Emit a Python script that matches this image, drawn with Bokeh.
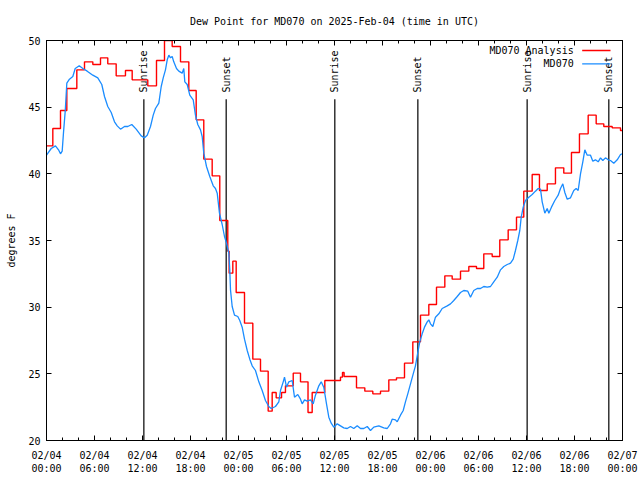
import math
from bokeh.plotting import figure
from bokeh.models import FixedTicker, LinearAxis, Range1d, Label, CustomJSTickFormatter
from bokeh.core.properties import value
from bokeh.embed import file_html
from bokeh.resources import INLINE

# ---------------- data (hours since 2025-02-04 00:00 UTC) ----------------
title_text = "Dew Point for MD070 on 2025-Feb-04 (time in UTC)"
y_label = "degrees F"
tick_hours = [0, 6, 12, 18, 24, 30, 36, 42, 48, 54, 60, 66, 72]
tick_labels = ["02/04\n00:00", "02/04\n06:00", "02/04\n12:00", "02/04\n18:00",
               "02/05\n00:00", "02/05\n06:00", "02/05\n12:00", "02/05\n18:00",
               "02/06\n00:00", "02/06\n06:00", "02/06\n12:00", "02/06\n18:00",
               "02/07\n00:00"]
minor_hours = list(range(0, 73, 2))
y_ticks = [20, 25, 30, 35, 40, 45, 50]

sunrise_hours = [12.17, 36.04, 60.08]
sunset_hours = [22.46, 46.42, 70.29]

# MD070 Analysis (step starts, value)
analysis_t = [0, 0.79, 1.75, 2.54, 3.79, 4.75, 5.79, 6.75, 7.66, 8.71, 9.87, 10.71,
              12.66, 13.75, 14.75, 15.71, 16.75, 17.79, 18.71, 19.66, 20.71, 21.66,
              22.66, 22.83, 23.29, 23.71, 24.75, 25.79, 26.75, 27.71, 28.21, 28.71,
              29.38, 29.87, 30.84, 31.75, 32.69, 33.21, 34.79, 36.75, 37.0, 37.2,
              38.75, 39.79, 40.79, 41.75, 42.79, 43.75, 44.75, 45.79, 46.75, 47.79,
              48.75, 49.79, 50.71, 51.75, 52.79, 53.75, 54.66, 55.71, 56.66, 57.71,
              58.75, 59.66, 60.71, 61.62, 62.59, 63.62, 64.66, 65.62, 66.62, 67.71,
              68.71, 69.66, 70.71, 71.75]
analysis_v = [42.1, 43.4, 44.75, 46.4, 47.8, 48.4, 48.2, 48.7, 48.25, 47.35, 47.75, 47.05,
              46.6, 48.5, 50.0, 49.55, 48.4, 46.25, 44.05, 41.1, 39.85, 36.5,
              34.2, 32.55, 33.45, 31.1, 28.8, 26.1, 25.2, 22.2, 23.6, 23.2,
              23.6, 24.1, 25.05, 24.4, 22.1, 23.6, 24.5, 24.75, 25.1, 24.8,
              23.95, 23.7, 23.5, 23.7, 24.55, 24.7, 25.8, 27.4, 29.4, 30.2,
              31.5, 32.35, 32.1, 32.7, 33.05, 32.9, 34.0, 33.8, 35.05, 35.8,
              36.75, 38.7, 39.95, 38.75, 39.25, 40.45, 40.05, 41.6, 43.0, 44.4,
              43.75, 43.55, 43.45, 43.25]

# MD070 observations
obs_t = [0.0, 0.59, 1.12, 1.5, 1.75, 1.96, 2.12, 2.34, 2.54, 2.87, 3.29, 3.59, 4.09, 4.54,
         5.09, 5.79, 6.41, 6.91, 7.25, 7.66, 8.09, 8.5, 8.84, 9.25, 9.75, 10.16, 10.66,
         11.21, 11.84, 12.25, 12.59, 13.0, 13.34, 13.62, 14.04, 14.34, 14.59, 14.87, 15.09,
         15.29, 15.5, 15.71, 15.91, 16.25, 16.54, 16.96, 17.16, 17.29, 17.59, 17.91, 18.34,
         18.62, 18.91, 19.25, 19.46, 19.66, 20.0, 20.41, 20.84, 21.12, 21.34, 21.62, 21.96,
         22.25, 22.5, 22.79, 22.91, 23.0, 23.21, 23.5, 23.91, 24.16, 24.46, 24.75, 25.09,
         25.41, 25.71, 26.12, 26.54, 26.96, 27.37, 27.79, 28.09, 28.62, 29.04, 29.25, 29.59,
         29.75, 30.0, 30.29, 30.71, 31.0, 31.41, 31.75, 31.96, 32.25, 32.59, 33.0, 33.34,
         33.62, 34.04, 34.34, 34.66, 35.0, 35.29, 35.59, 35.91, 36.34, 36.75, 37.16, 37.59,
         38.0, 38.41, 38.84, 39.25, 39.66, 40.09, 40.5, 40.91, 41.54, 42.16, 42.59, 43.0,
         43.21, 43.62, 43.84, 44.25, 44.59, 44.87, 45.16, 45.5, 45.84, 46.12, 46.41, 46.66,
         46.96, 47.25, 47.59, 47.79, 48.0, 48.29, 48.62, 49.04, 49.46, 50.09, 50.5, 50.91,
         51.34, 51.75, 52.16, 52.66, 53.0, 53.41, 53.84, 54.25, 54.66, 55.09, 55.5, 55.91,
         56.34, 56.75, 57.16, 57.59, 58.0, 58.34, 58.62, 58.91, 59.16, 59.34, 59.59, 59.87,
         60.29, 60.71, 61.12, 61.46, 61.75, 61.96, 62.29, 62.59, 62.79, 63.12, 63.54, 63.96,
         64.25, 64.54, 64.79, 65.09, 65.5, 65.91, 66.21, 66.46, 66.75, 67.04, 67.29, 67.59,
         68.0, 68.29, 68.62, 68.96, 69.25, 69.54, 69.87, 70.21, 70.5, 70.91, 71.34, 71.75,
         71.96]
obs_v = [41.4, 41.9, 42.1, 41.8, 41.5, 41.7, 43.05, 44.7, 46.8, 47.1, 47.3, 47.9, 48.1, 47.9,
         47.7, 47.4, 47.2, 46.7, 45.8, 45.05, 44.6, 43.9, 43.6, 43.35, 43.55, 43.55, 43.7,
         43.35, 42.85, 42.7, 42.9, 43.55, 44.4, 44.9, 45.3, 46.55, 47.2, 47.8, 48.55,
         48.9, 48.7, 48.8, 48.4, 47.9, 47.7, 47.55, 47.9, 46.9, 46.7, 45.9, 45.55,
         44.4, 43.7, 43.3, 42.8, 41.55, 40.55, 39.8, 39.1, 38.9, 38.55, 37.05, 36.2,
         35.3, 34.8, 34.05, 32.8, 31.3, 30.05, 29.4, 29.3, 29.0, 28.5, 27.6, 26.75,
         26.1, 25.6, 25.25, 24.4, 23.75, 23.0, 22.55, 22.4, 22.55, 22.9, 23.75, 24.4,
         24.75, 24.0, 24.4, 24.5, 23.25, 23.45, 23.1, 22.75, 23.05, 22.95, 23.05, 22.75,
         23.4, 24.1, 24.4, 24.0, 22.75, 21.75, 21.3, 21.0, 21.25, 21.1, 20.95, 20.9,
         21.05, 20.9, 21.1, 20.9, 20.9, 21.05, 20.75, 21.0, 21.1, 20.95, 20.9, 21.25,
         21.6, 21.55, 21.4, 21.9, 22.25, 22.9, 23.5, 24.25, 25.0, 25.6, 26.6, 27.4,
         28.0, 28.5, 28.9, 29.05, 28.75, 28.55, 29.25, 29.5, 29.9, 30.1, 30.25, 30.5,
         30.8, 31.1, 31.25, 31.2, 30.75, 31.25, 31.4, 31.4, 31.55, 31.5, 31.55, 31.9,
         32.25, 32.8, 33.05, 33.2, 33.3, 33.6, 34.25, 35.0, 35.75, 36.75, 37.5, 38.0,
         38.25, 38.45, 38.7, 38.9, 38.85, 37.9, 37.05, 37.4, 37.05, 37.5, 38.0, 38.4,
         38.9, 39.25, 38.6, 38.1, 38.2, 38.75, 38.9, 38.75, 40.0, 40.9, 41.8, 41.4,
         41.4, 40.95, 41.05, 40.9, 41.2, 41.0, 41.2, 41.05, 41.0, 40.8, 41.05, 41.45,
         41.5]

# ---------------- styling ----------------
MONO = "DejaVu Sans Mono"
FS = "10px"
RED = "#ff0000"
BLUE = "#1a8cff"

p = figure(width=640, height=480, x_range=Range1d(0, 72), y_range=Range1d(20, 50),
           output_backend="svg", toolbar_location=None,
           min_border_left=46, min_border_right=18, min_border_top=40, min_border_bottom=40,
           background_fill_color="white", border_fill_color="white")
p.grid.visible = False
p.outline_line_color = "black"
p.outline_line_width = 1

p.title.text = title_text
p.title.text_font = MONO
p.title.text_font_size = FS
p.title.text_font_style = "normal"
p.title.text_color = "black"
p.title.align = "center"
p.title.standoff = 27

xt = FixedTicker(ticks=tick_hours, minor_ticks=minor_hours)
yt = FixedTicker(ticks=y_ticks, minor_ticks=[])

xa = p.xaxis[0]
xa.ticker = xt
xa.major_label_overrides = {h: lab for h, lab in zip(tick_hours, tick_labels)}
ya = p.yaxis[0]
ya.ticker = yt
ya.axis_label = y_label

for ax in (xa, ya):
    ax.major_label_text_font = MONO
    ax.major_label_text_font_size = FS
    ax.major_label_text_color = "black"
    ax.axis_label_text_font = MONO
    ax.axis_label_text_font_size = FS
    ax.axis_label_text_font_style = "normal"
    ax.axis_label_text_color = "black"
    ax.major_tick_in = 5
    ax.major_tick_out = 0
    ax.minor_tick_in = 3
    ax.minor_tick_out = 0
    ax.axis_line_color = "black"
    ax.major_tick_line_color = "black"
    ax.minor_tick_line_color = "black"
xa.major_label_standoff = 9
ya.major_label_standoff = 6
ya.axis_label_standoff = 8
ya.minor_tick_line_color = None

blank = CustomJSTickFormatter(code="return ''")
top = LinearAxis(ticker=xt, formatter=blank, major_label_standoff=0,
                 major_tick_in=5, major_tick_out=0, minor_tick_in=3, minor_tick_out=0)
right = LinearAxis(ticker=yt, formatter=blank, major_label_standoff=0,
                   major_tick_in=5, major_tick_out=0, minor_tick_line_color=None)
p.add_layout(top, "above")
p.add_layout(right, "right")

# sun lines and labels
line_top = 45.6
text_y = 46.1
sun_x = sunrise_hours + sunset_hours
sun_names = ["Sunrise"] * len(sunrise_hours) + ["Sunset"] * len(sunset_hours)
p.segment(x0=sun_x, y0=[20] * len(sun_x), x1=sun_x, y1=[line_top] * len(sun_x),
          line_color="black", line_width=1.2)
p.text(x=sun_x, y=[text_y] * len(sun_x), text=sun_names, angle=math.pi / 2,
       text_align="left", text_baseline="middle", text_font=value(MONO),
       text_font_size=value(FS), text_color="black")

# series
p.step(x=analysis_t + [72], y=analysis_v + [analysis_v[-1]], mode="after",
       line_color=RED, line_width=1.4)
p.line(x=obs_t, y=obs_v, line_color=BLUE, line_width=1.3)

# key (top right, gnuplot style: text then sample)
key_text_x = 65.9
key_x0, key_x1 = 66.96, 70.5
key_rows = [(49.25, "MD070 Analysis", RED), (48.25, "MD070", BLUE)]
for ky, name, col in key_rows:
    p.add_layout(Label(x=key_text_x, y=ky, text=name, text_align="right",
                       text_baseline="middle", text_font=MONO, text_font_size=FS,
                       text_color="black"))
    p.line(x=[key_x0, key_x1], y=[ky, ky], line_color=col, line_width=1.3)

open("out.html", "w").write(file_html(p, INLINE))
